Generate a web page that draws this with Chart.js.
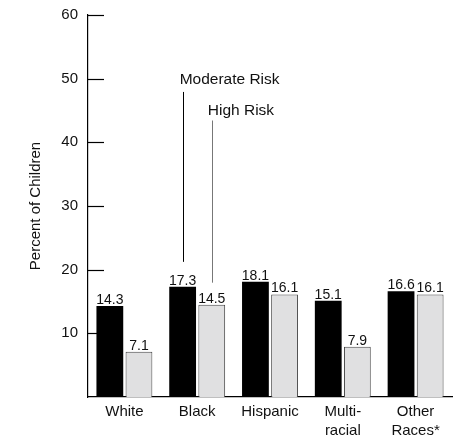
<!DOCTYPE html>
<html>
<head>
<meta charset="utf-8">
<script src="https://cdn.jsdelivr.net/npm/chart.js@4/dist/chart.umd.min.js"></script>
<style>
  body { margin: 0; background: #fff; }
  canvas { display: block; }
</style>
</head>
<body>
<canvas id="myChart" width="458" height="436"></canvas>
<script>
// Datos del gráfico
const categories = ['White', 'Black', 'Hispanic', ['Multi-', 'racial'], ['Other', 'Races*']];
const moderateRisk = [14.3, 17.3, 18.1, 15.1, 16.6];
const highRisk = [7.1, 14.5, 16.1, 7.9, 16.1];
const yTicks = [10, 20, 30, 40, 50, 60];

const FONT = "'Liberation Sans', Arial, Helvetica, sans-serif";
const TEXT = '#111';

// Etiquetas de valor, marcas de eje internas y anotaciones
const extrasPlugin = {
  id: 'extras',
  afterDatasetsDraw(chart) {
    const ctx = chart.ctx;
    const y = chart.scales.y;
    const area = chart.chartArea;

    // marcas del eje Y hacia dentro
    ctx.save();
    ctx.strokeStyle = '#000';
    ctx.lineWidth = 1.2;
    yTicks.forEach(v => {
      const py = Math.round(y.getPixelForValue(v)) + 0.5;
      ctx.beginPath();
      ctx.moveTo(area.left, py);
      ctx.lineTo(area.left + 16, py);
      ctx.stroke();
    });

    // valores sobre las barras
    ctx.font = '14px ' + FONT;
    ctx.fillStyle = TEXT;
    ctx.textAlign = 'center';
    ctx.textBaseline = 'alphabetic';
    chart.data.datasets.forEach((ds, i) => {
      const meta = chart.getDatasetMeta(i);
      meta.data.forEach((bar, j) => {
        ctx.fillText(ds.data[j].toFixed(1), bar.x, bar.y - 2);
      });
    });

    // anotaciones "Moderate Risk" / "High Risk"
    const modBar = chart.getDatasetMeta(0).data[1];
    const highBar = chart.getDatasetMeta(1).data[1];
    const modTextY = y.getPixelForValue(49.8);
    const highTextY = y.getPixelForValue(45.0);

    ctx.font = '15.5px ' + FONT;
    ctx.textAlign = 'left';
    ctx.textBaseline = 'middle';
    ctx.fillText('Moderate Risk', modBar.x - 3, modTextY);
    ctx.fillText('High Risk', highBar.x - 4, highTextY);

    ctx.lineWidth = 1;
    ctx.strokeStyle = '#000';
    ctx.beginPath();
    ctx.moveTo(Math.round(modBar.x) + 0.5, modTextY + 12);
    ctx.lineTo(Math.round(modBar.x) + 0.5, modBar.y - 25);
    ctx.stroke();

    ctx.strokeStyle = '#777';
    ctx.beginPath();
    ctx.moveTo(Math.round(highBar.x) + 0.5, highTextY + 10);
    ctx.lineTo(Math.round(highBar.x) + 0.5, highBar.y - 22);
    ctx.stroke();
    ctx.restore();
  }
};

new Chart(document.getElementById('myChart').getContext('2d'), {
  type: 'bar',
  data: {
    labels: categories,
    datasets: [
      {
        label: 'Moderate Risk',
        data: moderateRisk,
        backgroundColor: '#000',
        borderColor: '#000',
        borderWidth: 0,
        categoryPercentage: 0.8,
        barPercentage: 0.92
      },
      {
        label: 'High Risk',
        data: highRisk,
        backgroundColor: '#e0e0e1',
        borderColor: '#444',
        borderWidth: 1,
        categoryPercentage: 0.8,
        barPercentage: 0.92
      }
    ]
  },
  options: {
    responsive: false,
    animation: false,
    events: [],
    layout: { padding: { top: 15, right: 6, bottom: 0, left: 0 } },
    plugins: {
      legend: { display: false },
      tooltip: { enabled: false }
    },
    scales: {
      x: {
        grid: { display: false, drawTicks: false },
        border: { display: true, color: '#000', width: 1.2 },
        ticks: {
          color: TEXT,
          padding: 5,
          maxRotation: 0,
          font: { family: FONT, size: 15, lineHeight: 1.3 }
        },
        afterFit(scale) { scale.height = 39; }
      },
      y: {
        min: 0,
        max: 60,
        grid: { display: false, drawTicks: false },
        border: { display: true, color: '#000', width: 1.2 },
        ticks: {
          stepSize: 10,
          padding: 10,
          color: TEXT,
          font: { family: FONT, size: 15 },
          callback: v => (v === 0 ? '' : v)
        },
        title: {
          display: true,
          text: 'Percent of Children',
          color: TEXT,
          padding: { top: 27, bottom: 0 },
          font: { family: FONT, size: 15 }
        },
        afterFit(scale) {
          scale.width = 88;
          scale.paddingTop = 0;
          scale.paddingBottom = 0;
        }
      }
    }
  },
  plugins: [extrasPlugin]
});
</script>
</body>
</html>
